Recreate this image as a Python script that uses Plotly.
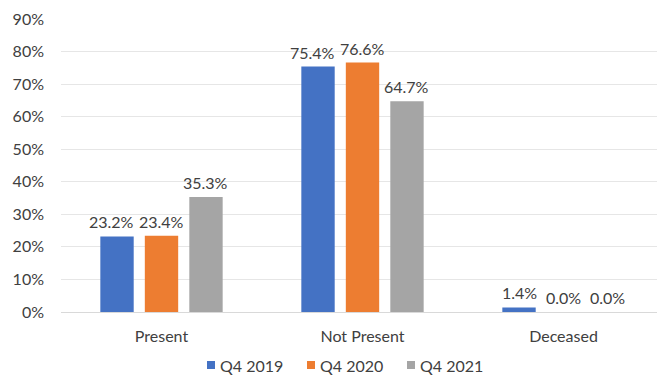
import plotly.graph_objects as go

categories = ["Present", "Not Present", "Deceased"]
series_names = ["Q4 2019", "Q4 2020", "Q4 2021"]
q4_2019 = [0.232, 0.754, 0.014]
q4_2020 = [0.234, 0.766, 0.0]
q4_2021 = [0.353, 0.647, 0.0]
tick_values = [0, 0.1, 0.2, 0.3, 0.4, 0.5, 0.6, 0.7, 0.8, 0.9]
tick_labels = ["0%", "10%", "20%", "30%", "40%", "50%", "60%", "70%", "80%", "90%"]

colors = ["#4472C4", "#ED7D31", "#A5A5A5"]
font_family = "Lato, 'Open Sans', sans-serif"
text_color = "#404040"

W, H = 657, 379
M_L, M_R, M_T, M_B = 61, 0, 19, 67
BAR_GAP = 0.336
CATEGORY_PX = 201  # horizontal room for each category; the last one runs past the right edge
plot_w = W - M_L - M_R
plot_h = H - M_T - M_B


def px_to_paper_x(px):
    return (px - M_L) / plot_w


def px_to_paper_y(py):
    return (H - M_B - py) / plot_h


series_values = [q4_2019, q4_2020, q4_2021]

fig = go.Figure()
for name, vals, col in zip(series_names, series_values, colors):
    fig.add_trace(go.Bar(
        name=name,
        x=categories,
        y=vals,
        marker=dict(color=col, line=dict(width=0)),
        showlegend=False,
    ))

# value labels above each bar; the first label of a crowded group is nudged left
slot = (1 - BAR_GAP) / len(series_values)
for i, vals in enumerate(series_values):
    for j, v in enumerate(vals):
        crowded = i == 0 and max(s[j] for s in series_values[1:]) > 0.05
        fig.add_annotation(
            x=j + (i - 1) * slot,
            y=v,
            xref="x",
            yref="y",
            text=f"{v * 100:.1f}%",
            showarrow=False,
            yanchor="bottom",
            xanchor="center",
            yshift=3,
            xshift=-6 if crowded else 0,
            font=dict(size=16, color=text_color, family=font_family),
        )

# legend row: small square swatches followed by the series name
legend_start, legend_step, legend_y, swatch = 207, 100, 365, 8
for k, (name, col) in enumerate(zip(series_names, colors)):
    x0 = legend_start + k * legend_step
    fig.add_shape(
        type="rect",
        xref="paper", yref="paper",
        x0=px_to_paper_x(x0), x1=px_to_paper_x(x0 + swatch),
        y0=px_to_paper_y(legend_y + swatch / 2), y1=px_to_paper_y(legend_y - swatch / 2),
        fillcolor=col, line=dict(width=0),
    )
    fig.add_annotation(
        x=px_to_paper_x(x0 + swatch + 3),
        y=px_to_paper_y(legend_y),
        xref="paper", yref="paper",
        text=name,
        showarrow=False,
        xanchor="left",
        yanchor="middle",
        font=dict(size=16, color=text_color, family=font_family),
    )

fig.update_layout(
    width=W,
    height=H,
    margin=dict(l=M_L, r=M_R, t=M_T, b=M_B, autoexpand=False),
    paper_bgcolor="white",
    plot_bgcolor="white",
    barmode="group",
    bargap=BAR_GAP,
    bargroupgap=0.25,
    font=dict(family=font_family, size=16, color=text_color),
    showlegend=False,
    xaxis=dict(
        range=[-0.5, -0.5 + plot_w / CATEGORY_PX],
        showline=True,
        linecolor="#d9d9d9",
        ticks="",
        tickfont=dict(size=16, color=text_color),
        ticklabelstandoff=10,
    ),
    yaxis=dict(
        range=[0, 0.9],
        tickvals=tick_values,
        ticktext=tick_labels,
        showgrid=True,
        gridcolor="#e6e6e6",
        zeroline=False,
        showline=False,
        tickfont=dict(size=16, color=text_color),
        ticklabelstandoff=16,
    ),
)

fig.write_html("out.html")
